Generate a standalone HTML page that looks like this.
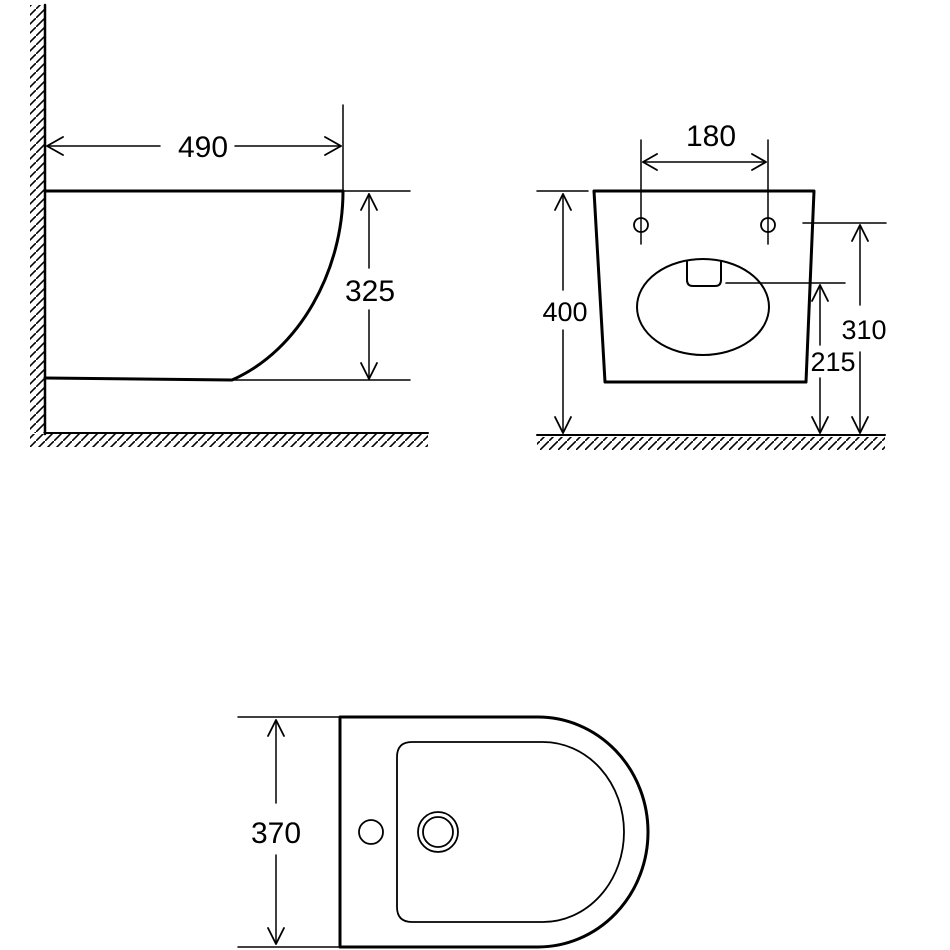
<!DOCTYPE html>
<html><head><style>body{margin:0;background:#fff}svg{display:block}</style></head>
<body>
<svg width="950" height="950" viewBox="0 0 950 950" xmlns="http://www.w3.org/2000/svg">
<defs>
<pattern id="hv" width="9" height="9" patternUnits="userSpaceOnUse"><path d="M-1,10 L10,-1" stroke="#000" stroke-width="1.6"/></pattern>
</defs>
<g fill="none" stroke="#000" stroke-linecap="round" stroke-linejoin="round">
<!-- left view hatching -->
<rect x="30" y="5" width="14" height="428" fill="url(#hv)" stroke="none"/>
<rect x="30" y="434" width="398" height="13" fill="url(#hv)" stroke="none"/>
<line x1="45" y1="5" x2="45" y2="434" stroke-width="2.5"/>
<line x1="45" y1="433" x2="428" y2="433" stroke-width="2"/>
<path d="M45,191 H343 C343,270 300,350 232,380 L45,378" stroke-width="3"/>
<line x1="343" y1="191" x2="410" y2="191" stroke-width="1.5"/>
<line x1="232" y1="380" x2="410" y2="380" stroke-width="1.5"/>
<line x1="343" y1="105" x2="343" y2="191" stroke-width="1.5"/>
<line x1="47" y1="146" x2="160" y2="146" stroke-width="1.5"/>
<line x1="235" y1="146" x2="341" y2="146" stroke-width="1.5"/>
<path d="M63,137 L47,146 L63,155 M325,137 L341,146 L325,155" stroke-width="1.8"/>
<line x1="369" y1="194" x2="369" y2="268" stroke-width="1.5"/>
<line x1="369" y1="310" x2="369" y2="379" stroke-width="1.5"/>
<path d="M361,210 L369,194 L377,210 M361,363 L369,379 L377,363" stroke-width="1.8"/>
<!-- right view -->
<rect x="537" y="437" width="348" height="13" fill="url(#hv)" stroke="none"/>
<line x1="537" y1="435" x2="885" y2="435" stroke-width="2"/>
<path d="M594,191 H814 L806,382 H605 Z" stroke-width="3"/>
<line x1="537" y1="191" x2="588" y2="191" stroke-width="1.5"/>
<line x1="563" y1="194" x2="563" y2="290" stroke-width="1.5"/>
<line x1="563" y1="330" x2="563" y2="433" stroke-width="1.5"/>
<path d="M555,210 L563,194 L571,210 M555,417 L563,433 L571,417" stroke-width="1.8"/>
<circle cx="641" cy="225" r="7" stroke-width="1.8"/>
<circle cx="768" cy="225" r="7" stroke-width="1.8"/>
<line x1="641" y1="140" x2="641" y2="244" stroke-width="1.5"/>
<line x1="768" y1="140" x2="768" y2="244" stroke-width="1.5"/>
<line x1="643" y1="162" x2="766" y2="162" stroke-width="1.5"/>
<path d="M657,154 L643,162 L657,170 M752,154 L766,162 L752,170" stroke-width="1.8"/>
<ellipse cx="703" cy="307" rx="66" ry="48" stroke-width="2"/>
<path d="M687,261 V280 Q687,286 693,286 H715 Q721,286 721,280 V262" stroke-width="2"/>
<line x1="726" y1="283" x2="845" y2="283" stroke-width="1.5"/>
<line x1="803" y1="223" x2="886" y2="223" stroke-width="1.5"/>
<line x1="860" y1="225" x2="860" y2="305" stroke-width="1.5"/>
<line x1="860" y1="352" x2="860" y2="433" stroke-width="1.5"/>
<path d="M852,241 L860,225 L868,241 M852,417 L860,433 L868,417" stroke-width="1.8"/>
<line x1="820" y1="285" x2="820" y2="345" stroke-width="1.5"/>
<line x1="820" y1="378" x2="820" y2="433" stroke-width="1.5"/>
<path d="M812,301 L820,285 L828,301 M812,417 L820,433 L828,417" stroke-width="1.8"/>
<!-- bottom view -->
<path d="M340,717 H538 A110,115 0 0 1 538,947 H340 Z" stroke-width="3"/>
<path d="M412,742 H543 A81,90 0 0 1 543,922 H412 Q397,922 397,907 V757 Q397,742 412,742 Z" stroke-width="1.8"/>
<circle cx="371" cy="832" r="12" stroke-width="1.8"/>
<circle cx="438" cy="832" r="20" stroke-width="1.8"/>
<circle cx="438" cy="832" r="15" stroke-width="1.8"/>
<line x1="238" y1="717" x2="340" y2="717" stroke-width="1.5"/>
<line x1="238" y1="947" x2="340" y2="947" stroke-width="1.5"/>
<line x1="276" y1="720" x2="276" y2="803" stroke-width="1.5"/>
<line x1="276" y1="855" x2="276" y2="944" stroke-width="1.5"/>
<path d="M268,736 L276,720 L284,736 M268,928 L276,944 L284,928" stroke-width="1.8"/>
</g>
<g font-family="Liberation Sans, sans-serif" font-size="30" fill="#000" text-anchor="middle">
<text x="203" y="157">490</text>
<text x="370" y="301">325</text>
<text x="711" y="146">180</text>
<text x="565" y="321" font-size="27">400</text>
<text x="864" y="339" font-size="27">310</text>
<text x="833" y="371" font-size="27">215</text>
<text x="276" y="843">370</text>
</g>
</svg>
</body></html>
